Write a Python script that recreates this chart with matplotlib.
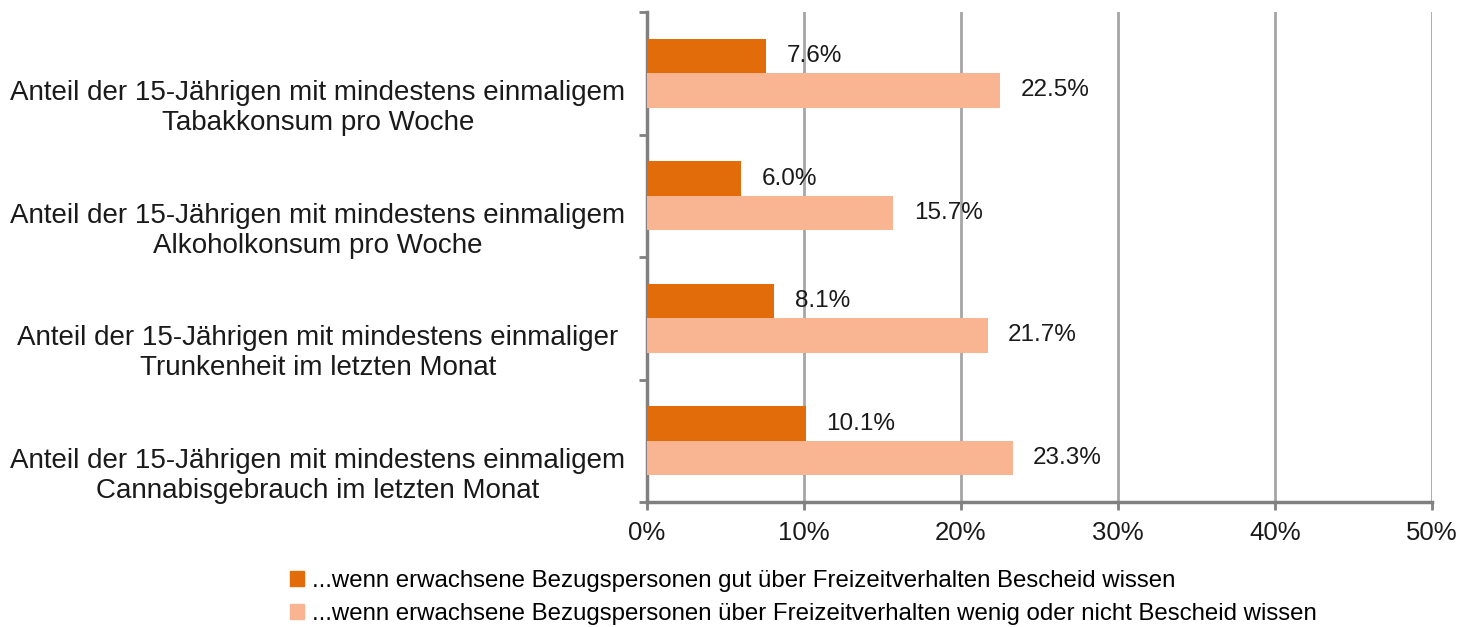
import matplotlib
matplotlib.use("Agg")
import matplotlib.pyplot as plt
import numpy as np
from matplotlib.patches import Patch

plt.rcParams['font.family'] = ['Liberation Sans', 'DejaVu Sans']

categories = [
    "Anteil der 15-Jährigen mit mindestens einmaligem\nTabakkonsum pro Woche",
    "Anteil der 15-Jährigen mit mindestens einmaligem\nAlkoholkonsum pro Woche",
    "Anteil der 15-Jährigen mit mindestens einmaliger\nTrunkenheit im letzten Monat",
    "Anteil der 15-Jährigen mit mindestens einmaligem\nCannabisgebrauch im letzten Monat",
]
good = [7.6, 6.0, 8.1, 10.1]
poor = [22.5, 15.7, 21.7, 23.3]
series_names = [
    "...wenn erwachsene Bezugspersonen gut über Freizeitverhalten Bescheid wissen",
    "...wenn erwachsene Bezugspersonen über Freizeitverhalten wenig oder nicht Bescheid wissen",
]
xticks = [0, 10, 20, 30, 40, 50]

c_dark = "#E36C0A"
c_light = "#F9B591"

fig = plt.figure(figsize=(14.72, 6.27), dpi=100)
ax = fig.add_axes([647/1472, 1-502/627, (1432-647)/1472, (502-12)/627])

n = len(categories)
y = np.arange(n)[::-1].astype(float)  # top category first
h = 0.28
ax.barh(y + h/2, good, height=h, color=c_dark, zorder=3)
ax.barh(y - h/2, poor, height=h, color=c_light, zorder=3)

for yi, g, p in zip(y, good, poor):
    ax.text(g + 1.3, yi + h/2, f"{g:.1f}%", va="center", ha="left", fontsize=17.5, color="#1a1a1a", zorder=4)
    ax.text(p + 1.3, yi - h/2, f"{p:.1f}%", va="center", ha="left", fontsize=17.5, color="#1a1a1a", zorder=4)

ax.set_xlim(0, 50)
ax.set_ylim(-0.5, n - 0.5)
ax.set_xticks(xticks)
ax.set_xticklabels([f"{t}%" for t in xticks], fontsize=18.5, color="#1a1a1a")
ax.set_yticks(np.arange(-0.5, n, 1.0))
ax.set_yticklabels([])
# category labels sit somewhat below the bar-pair centres, as in the reference
ax.set_yticks(y - 0.245, minor=True)
ax.set_yticklabels(categories, minor=True, fontsize=20, color="#1a1a1a")
ax.tick_params(axis='y', which='minor', length=0, pad=237)
ax.tick_params(axis='y', which='major', length=6, width=2, color="#808080")
ax.tick_params(axis='x', length=6, width=2, color="#808080", pad=8)
for lbl in ax.get_yticklabels(minor=True):
    lbl.set_horizontalalignment('center')
    lbl.set_multialignment('center')
    lbl.set_linespacing(1.2)

ax.grid(axis='x', color="#A6A6A6", linewidth=2, zorder=0)
for s in ["top", "right"]:
    ax.spines[s].set_visible(False)
for s in ["left", "bottom"]:
    ax.spines[s].set_color("#808080")
    ax.spines[s].set_linewidth(2.5)

handles = [Patch(color=c_dark), Patch(color=c_light)]
fig.legend(handles, series_names, loc="upper left", bbox_to_anchor=(290/1472, 1-570/627),
           frameon=False, fontsize=17.3, handlelength=0.6, handleheight=0.6,
           handletextpad=0.3, labelspacing=0.45, borderaxespad=0, borderpad=0)

fig.savefig("out.png", dpi=100)
